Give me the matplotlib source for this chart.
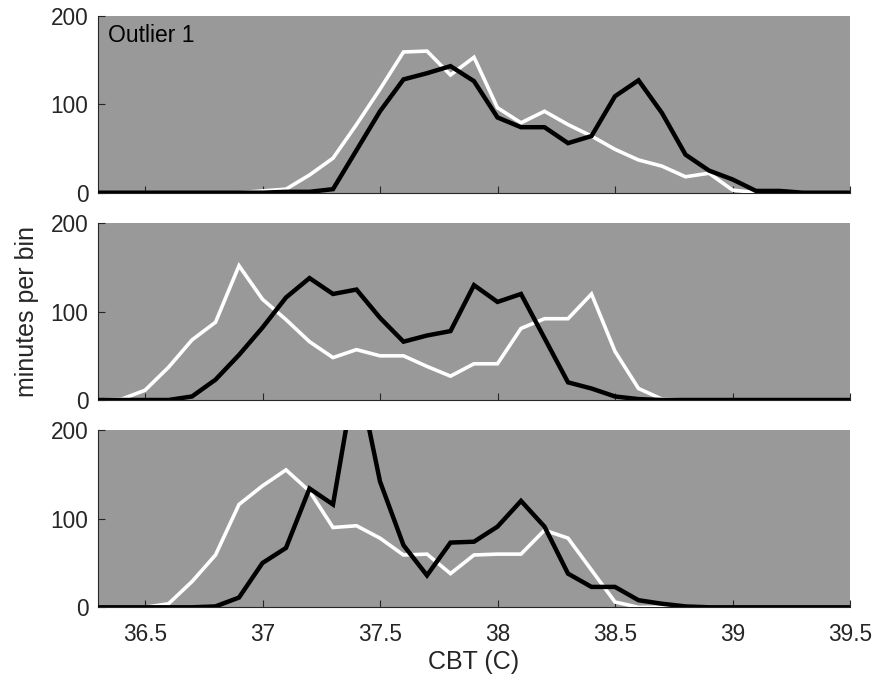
import numpy as np
import matplotlib
matplotlib.use("Agg")
import matplotlib.pyplot as plt

# bin centres (CBT, deg C)
cbt = [36.3, 36.4, 36.5, 36.6, 36.7, 36.8, 36.9, 37.0, 37.1, 37.2, 37.3,
       37.4, 37.5, 37.6, 37.7, 37.8, 37.9, 38.0, 38.1, 38.2, 38.3, 38.4,
       38.5, 38.6, 38.7, 38.8, 38.9, 39.0, 39.1, 39.2, 39.3, 39.4, 39.5]

# panel 1 (Outlier 1)
p1_white = [0, 0, 0, 0, 0, 0, 0, 2, 4, 20, 39, 77, 117, 159, 160, 133, 153,
            96, 79, 92, 77, 64, 49, 37, 30, 18, 22, 3, 0, 0, 0, 0, 0]
p1_black = [0, 0, 0, 0, 0, 0, 0, 0, 1, 1, 4, 48, 92, 128, 135, 143, 126,
            85, 74, 74, 56, 64, 109, 127, 90, 43, 25, 15, 2, 2, 0, 0, 0]

# panel 2
p2_white = [0, 1, 11, 37, 68, 88, 152, 114, 91, 66, 48, 57, 50, 50, 38, 27, 41,
            41, 81, 92, 92, 120, 55, 13, 1, 0, 0, 0, 0, 0, 0, 0, 0]
p2_black = [0, 0, 0, 0, 4, 23, 51, 82, 116, 138, 120, 125, 93, 66, 73, 78, 130,
            111, 120, 70, 20, 13, 4, 1, 0, 0, 0, 0, 0, 0, 0, 0, 0]

# panel 3
p3_white = [0, 0, 0, 4, 29, 59, 116, 137, 155, 131, 90, 92, 78, 59, 60, 38, 59,
            60, 60, 87, 78, 42, 6, 0, 0, 0, 0, 0, 0, 0, 0, 0, 0]
p3_black = [0, 0, 0, 0, 0, 1, 11, 50, 67, 134, 116, 270, 142, 70, 36, 73, 74,
            91, 120, 91, 38, 23, 23, 8, 4, 1, 0, 0, 0, 0, 0, 0, 0]

panels = [(p1_white, p1_black), (p2_white, p2_black), (p3_white, p3_black)]
xticks = [36.5, 37, 37.5, 38, 38.5, 39, 39.5]
xticklabels = ["36.5", "37", "37.5", "38", "38.5", "39", "39.5"]
yticks = [0, 100, 200]

plt.rcParams['font.family'] = ['Liberation Sans', 'DejaVu Sans']
textc = '#262626'
tick_fs = 16.3
label_fs = 18.0

fig = plt.figure(figsize=(8.79, 6.79), dpi=100)
W, H = 879, 679
left, right = 98, 850
tops = [(15.7, 192.7), (223.3, 400.0), (430.0, 607.3)]
axes = []
for (t, b) in tops:
    ax = fig.add_axes([left / W, 1 - b / H, (right - left) / W, (b - t) / H])
    axes.append(ax)

for i, (ax, (w, k)) in enumerate(zip(axes, panels)):
    ax.set_facecolor('#999999')
    ax.plot(cbt, w, color='white', lw=2.6, solid_joinstyle='miter', zorder=3)
    ax.plot(cbt, k, color='black', lw=3.2, solid_joinstyle='miter', zorder=4)
    ax.set_xlim(36.3, 39.5)
    ax.set_ylim(0, 200)
    ax.set_yticks(yticks)
    ax.set_xticks(xticks)
    for s in ['top', 'right']:
        ax.spines[s].set_visible(False)
    for s in ['left', 'bottom']:
        ax.spines[s].set_color(textc)
        ax.spines[s].set_linewidth(0.8)
    ax.tick_params(direction='in', length=5, width=0.8, colors=textc,
                   labelsize=tick_fs, labelcolor=textc)
    ax.tick_params(axis='y', pad=7)
    ax.tick_params(axis='x', pad=11)
    if i < 2:
        ax.set_xticklabels([])
    else:
        ax.set_xticklabels(xticklabels)

axes[0].text(0.013, 0.955, 'Outlier 1', transform=axes[0].transAxes,
             ha='left', va='top', fontsize=16.5, color='black')
axes[2].set_xlabel('CBT (C)', fontsize=label_fs, color=textc, labelpad=3)
axes[1].set_ylabel('minutes per bin', fontsize=label_fs, color=textc, labelpad=8)

fig.savefig('out.png', dpi=100, facecolor='white')
